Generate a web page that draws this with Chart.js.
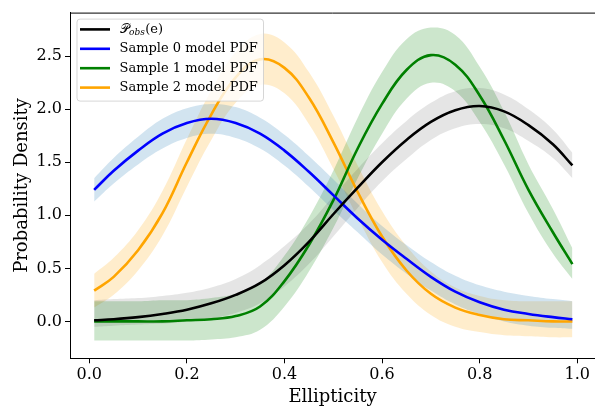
<!DOCTYPE html>
<html>
<head>
<meta charset="utf-8">
<script src="https://cdn.jsdelivr.net/npm/chart.js@4.4.1/dist/chart.umd.min.js"></script>
<style>
    html, body { margin: 0; padding: 0; background: #fff; }
    canvas { display: block; }
</style>
</head>
<body>
<canvas id="pdfChart" width="595" height="406"></canvas>
<script>
// Datos
const ellipticity = [0.01, 0.05, 0.10, 0.15, 0.20, 0.25, 0.30, 0.35, 0.40, 0.45, 0.50,
                     0.55, 0.60, 0.65, 0.70, 0.75, 0.80, 0.85, 0.90, 0.95, 0.99];

// P_obs(e)
const obsMean = [0.01, 0.02, 0.04, 0.07, 0.11, 0.17, 0.25, 0.36, 0.53, 0.75, 1.01,
                 1.26, 1.50, 1.71, 1.88, 1.99, 2.03, 1.98, 1.85, 1.67, 1.47];
const obsLow  = [-0.05, -0.04, -0.03, -0.02, 0.00, 0.03, 0.08, 0.17, 0.33, 0.54, 0.80,
                 1.07, 1.32, 1.53, 1.71, 1.82, 1.86, 1.82, 1.70, 1.54, 1.35];
const obsHigh = [0.20, 0.21, 0.22, 0.24, 0.27, 0.32, 0.40, 0.53, 0.71, 0.92, 1.18,
                 1.44, 1.68, 1.89, 2.06, 2.17, 2.20, 2.14, 2.00, 1.81, 1.59];

// Sample 0
const s0Mean = [1.24, 1.42, 1.61, 1.77, 1.87, 1.91, 1.87, 1.77, 1.61, 1.41, 1.19,
                0.97, 0.77, 0.59, 0.42, 0.28, 0.18, 0.11, 0.07, 0.04, 0.02];
const s0Low  = [1.13, 1.30, 1.48, 1.63, 1.73, 1.77, 1.73, 1.63, 1.47, 1.27, 1.05,
                0.84, 0.63, 0.45, 0.29, 0.16, 0.07, 0.00, -0.04, -0.06, -0.07];
const s0High = [1.35, 1.54, 1.74, 1.91, 2.01, 2.05, 2.02, 1.92, 1.76, 1.56, 1.34,
                1.11, 0.90, 0.72, 0.56, 0.43, 0.34, 0.28, 0.24, 0.21, 0.19];

// Sample 1
const s1Mean = [0.00, 0.00, 0.00, 0.00, 0.01, 0.02, 0.05, 0.14, 0.38, 0.72, 1.14,
                1.63, 2.05, 2.37, 2.51, 2.42, 2.13, 1.71, 1.24, 0.84, 0.54];
const s1Low  = [-0.18, -0.18, -0.18, -0.18, -0.18, -0.17, -0.15, -0.08, 0.14, 0.47, 0.88,
                1.35, 1.77, 2.10, 2.25, 2.17, 1.88, 1.48, 1.02, 0.64, 0.40];
const s1High = [0.19, 0.19, 0.19, 0.20, 0.20, 0.22, 0.26, 0.36, 0.62, 0.98, 1.42,
                1.92, 2.35, 2.66, 2.77, 2.70, 2.40, 1.98, 1.48, 1.06, 0.69];

// Sample 2
const s2Mean = [0.29, 0.42, 0.67, 1.02, 1.50, 1.95, 2.30, 2.47, 2.39, 2.11, 1.69,
                1.22, 0.80, 0.48, 0.26, 0.13, 0.06, 0.02, 0.01, 0.00, 0.00];
const s2Low  = [0.13, 0.25, 0.48, 0.81, 1.27, 1.71, 2.06, 2.23, 2.15, 1.86, 1.44,
                0.98, 0.56, 0.26, 0.06, -0.05, -0.10, -0.13, -0.14, -0.15, -0.15];
const s2High = [0.45, 0.60, 0.86, 1.23, 1.72, 2.18, 2.54, 2.71, 2.63, 2.35, 1.94,
                1.47, 1.04, 0.71, 0.47, 0.32, 0.24, 0.20, 0.19, 0.19, 0.19];

const xTicks = [0.0, 0.2, 0.4, 0.6, 0.8, 1.0];
const yTicks = [0.0, 0.5, 1.0, 1.5, 2.0, 2.5];
const seriesLabels = ['obs', 'Sample 0 model PDF', 'Sample 1 model PDF', 'Sample 2 model PDF'];

const SERIF = "'DejaVu Serif', serif";

function pts(values) {
    return values.map((v, i) => ({ x: ellipticity[i], y: v }));
}

// Una serie = línea + banda (superior rellena hasta la inferior)
function series(label, mean, low, high, color, fill) {
    const common = { pointRadius: 0, tension: 0.4 };
    return [
        { ...common, label: label, data: pts(mean), borderColor: color, borderWidth: 2.6, fill: false },
        { ...common, label: label + ' hi', data: pts(high), borderWidth: 0, borderColor: 'transparent', backgroundColor: fill, fill: '+1' },
        { ...common, label: label + ' lo', data: pts(low), borderWidth: 0, borderColor: 'transparent', fill: false }
    ];
}

const lineColors = ['#000000', '#0000ff', '#008000', '#ffa500'];

// Marco superior (estilo matplotlib)
const framePlugin = {
    id: 'frame',
    afterDraw(chart) {
        const { ctx, chartArea } = chart;
        ctx.save();
        ctx.strokeStyle = '#000';
        ctx.lineWidth = 1;
        ctx.beginPath();
        ctx.moveTo(chartArea.left, chartArea.top + 0.5);
        ctx.lineTo(chartArea.right, chartArea.top + 0.5);
        ctx.stroke();
        ctx.restore();
    }
};

// Leyenda dibujada a mano dentro del área
const legendPlugin = {
    id: 'mplLegend',
    afterDraw(chart) {
        const ctx = chart.ctx;
        const area = chart.chartArea;
        const x0 = area.left + 7;
        const y0 = area.top + 6.5;
        ctx.save();
        ctx.beginPath();
        ctx.roundRect(x0, y0, 186.5, 82, 3);
        ctx.fillStyle = 'rgba(255,255,255,0.8)';
        ctx.fill();
        ctx.strokeStyle = 'rgba(204,204,204,0.8)';
        ctx.lineWidth = 1;
        ctx.stroke();

        seriesLabels.forEach((label, i) => {
            const y = y0 + 10.3 + i * 19.4;
            ctx.strokeStyle = lineColors[i];
            ctx.lineWidth = 2.6;
            ctx.beginPath();
            ctx.moveTo(x0 + 3, y);
            ctx.lineTo(x0 + 33, y);
            ctx.stroke();

            ctx.fillStyle = '#000';
            ctx.textBaseline = 'middle';
            ctx.textAlign = 'left';
            let tx = x0 + 42.5;
            if (i === 0) {
                // 𝒫_obs(e)
                ctx.font = '13px ' + SERIF;
                ctx.fillText('\u{1D4AB}', tx, y);
                tx += ctx.measureText('\u{1D4AB}').width + 0.5;
                ctx.font = 'italic 9px ' + SERIF;
                ctx.fillText(label, tx, y + 3);
                tx += ctx.measureText(label).width + 0.5;
                ctx.font = '13px ' + SERIF;
                ctx.fillText('(e)', tx, y);
            } else {
                ctx.font = '13px ' + SERIF;
                ctx.fillText(label, tx, y);
            }
        });
        ctx.restore();
    }
};

function initPdfChart() {
    const ctx = document.getElementById('pdfChart').getContext('2d');
    new Chart(ctx, {
        type: 'line',
        data: {
            datasets: [
                ...series(seriesLabels[0], obsMean, obsLow, obsHigh, lineColors[0], 'rgba(0,0,0,0.1)'),
                ...series(seriesLabels[1], s0Mean, s0Low, s0High, lineColors[1], 'rgba(31,119,180,0.2)'),
                ...series(seriesLabels[2], s1Mean, s1Low, s1High, lineColors[2], 'rgba(0,128,0,0.2)'),
                ...series(seriesLabels[3], s2Mean, s2Low, s2High, lineColors[3], 'rgba(255,165,0,0.2)')
            ]
        },
        options: {
            responsive: false,
            animation: false,
            layout: { padding: { top: 9, right: 0, left: 0, bottom: 0 }, autoPadding: false },
            plugins: {
                legend: { display: false },
                tooltip: { enabled: false },
                filler: { drawTime: 'beforeDatasetsDraw' }
            },
            scales: {
                x: {
                    type: 'linear',
                    min: -0.0395,
                    max: 1.0363,
                    afterBuildTicks: function(scale) {
                        scale.ticks = xTicks.map(v => ({ value: v }));
                    },
                    afterFit: function(scale) {
                        scale.height = 47.7;
                    },
                    ticks: {
                        color: '#000',
                        font: { family: SERIF, size: 16 },
                        padding: 2,
                        maxRotation: 0,
                        callback: function(value) {
                            return value.toFixed(1);
                        }
                    },
                    grid: { drawOnChartArea: false, drawTicks: true, tickLength: 5, color: '#000' },
                    border: { display: true, color: '#000', width: 1 },
                    title: {
                        display: true,
                        text: 'Ellipticity',
                        color: '#000',
                        font: { family: SERIF, size: 18, lineHeight: 1 },
                        padding: { top: 0, bottom: 0 }
                    }
                },
                y: {
                    type: 'linear',
                    min: -0.348,
                    max: 2.911,
                    afterBuildTicks: function(scale) {
                        scale.ticks = yTicks.map(v => ({ value: v }));
                    },
                    afterFit: function(scale) {
                        scale.width = 70;
                    },
                    ticks: {
                        color: '#000',
                        font: { family: SERIF, size: 16 },
                        padding: 3,
                        callback: function(value) {
                            return value.toFixed(1);
                        }
                    },
                    grid: { drawOnChartArea: false, drawTicks: true, tickLength: 5, color: '#000' },
                    border: { display: true, color: '#000', width: 1 },
                    title: {
                        display: true,
                        text: 'Probability Density',
                        color: '#000',
                        font: { family: SERIF, size: 18, lineHeight: 1 },
                        padding: { top: 13, bottom: 0 }
                    }
                }
            }
        },
        plugins: [framePlugin, legendPlugin]
    });
}

document.addEventListener('DOMContentLoaded', initPdfChart);
</script>
</body>
</html>
